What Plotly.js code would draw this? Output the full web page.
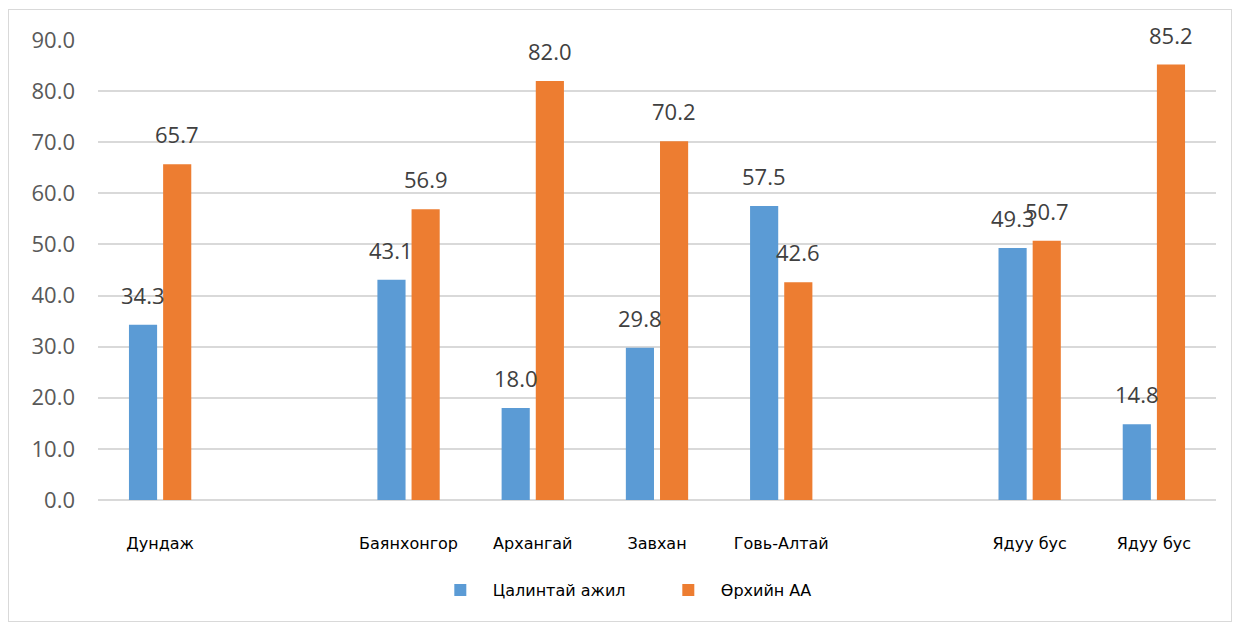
<!DOCTYPE html>
<html><head><meta charset="utf-8">
<script src="https://cdn.plot.ly/plotly-3.0.1.min.js"></script>
<style>
body{margin:0;padding:0;background:#fff;}
#wrap{position:relative;width:1235px;height:625px;}
#chart{width:1235px;height:625px;}
#frame{position:absolute;left:8px;top:9px;width:1222px;height:611px;border:1.5px solid #d9d9d9;pointer-events:none;}
</style></head>
<body>
<div id="wrap"><div id="chart"></div><div id="frame"></div></div>
<script>
const categories = ['Дундаж', '', 'Баянхонгор', 'Архангай', 'Завхан', 'Говь-Алтай', '', 'Ядуу бус', 'Ядуу бус'];
const salaried = [34.3, null, 43.1, 18.0, 29.8, 57.5, null, 49.3, 14.8];
const household = [65.7, null, 56.9, 82.0, 70.2, 42.6, null, 50.7, 85.2];
const seriesNames = ['Цалинтай ажил', 'Өрхийн АА'];
const seriesColors = ['#5b9bd5', '#ed7d31'];
const yTicks = [0, 10, 20, 30, 40, 50, 60, 70, 80, 90];

const xIdx = categories.map((_, i) => i);
const labelFont = {family: 'Open Sans, sans-serif', size: 22, color: '#404040'};

const plotLeft = 98, plotRight = 1216;
const bargap = 0.45;
const catPx = (plotRight - plotLeft) / categories.length;
const slotPx = catPx * (1 - bargap) / 2;

function barTrace(vals, name, color) {
  return {
    type: 'bar', x: xIdx, y: vals, name: name,
    marker: {color: color},
    hoverinfo: 'x+y'
  };
}

const data = [
  barTrace(salaried, seriesNames[0], seriesColors[0]),
  barTrace(household, seriesNames[1], seriesColors[1])
];

const annotations = [];
[salaried, household].forEach((vals, s) => {
  vals.forEach((v, i) => {
    if (v == null) return;
    annotations.push({
      x: xIdx[i], y: v, xref: 'x', yref: 'y',
      text: v.toFixed(1), showarrow: false,
      xanchor: 'center', yanchor: 'bottom',
      xshift: (s === 0 ? -1 : 1) * slotPx / 2, yshift: 13,
      font: labelFont
    });
  });
});

const layout = {
  width: 1235, height: 625,
  margin: {l: plotLeft, r: 1235 - plotRight, t: 40, b: 125},
  paper_bgcolor: '#fff', plot_bgcolor: '#fff',
  barmode: 'group', bargap: bargap, bargroupgap: 0.176,
  showlegend: true,
  legend: {orientation: 'h', x: 0.295, xanchor: 'left', y: -0.196, yanchor: 'middle',
    font: {family: 'DejaVu Sans, sans-serif', size: 16, color: '#000'},
    itemwidth: 55, entrywidth: 158, entrywidthmode: 'pixels'},
  annotations: annotations,
  xaxis: {
    range: [-0.5, categories.length - 0.5],
    tickmode: 'array', tickvals: xIdx, ticktext: categories,
    ticks: '', showgrid: false, zeroline: false, showline: false,
    tickfont: {family: 'DejaVu Sans, sans-serif', size: 16, color: '#000'},
    ticklabelstandoff: 32
  },
  yaxis: {
    range: [0, 90], tickmode: 'array', tickvals: yTicks,
    ticktext: yTicks.map(v => v.toFixed(1)),
    showgrid: true, gridcolor: '#d9d9d9', gridwidth: 1.5,
    zeroline: true, zerolinecolor: '#d9d9d9', zerolinewidth: 1.5,
    showline: false, ticks: '',
    tickfont: {family: 'Open Sans, sans-serif', size: 22, color: '#595959'},
    ticklabelstandoff: 22
  }
};

Plotly.newPlot('chart', data, layout, {displayModeBar: false});
</script>
</body></html>
